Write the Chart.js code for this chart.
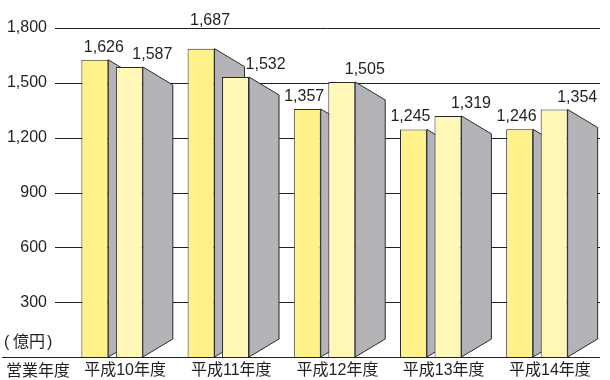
<!DOCTYPE html>
<html lang="ja">
<head>
  <meta charset="UTF-8" />
  <title>営業収益</title>
  <script src="https://cdn.jsdelivr.net/npm/chart.js"></script>
  <style>
    * { margin: 0; padding: 0; box-sizing: border-box; }
    body { background: #fff; width: 610px; height: 380px; overflow: hidden; }
    #wrap { position: relative; width: 610px; height: 380px; }
  </style>
</head>
<body>
  <div id="wrap"><canvas id="chart" width="610" height="380"></canvas></div>

  <script>
    const categories = ['平成10年度', '平成11年度', '平成12年度', '平成13年度', '平成14年度'];
    const seriesA = [1626, 1687, 1357, 1245, 1246];
    const seriesB = [1587, 1532, 1505, 1319, 1354];
    const yTicks = [300, 600, 900, 1200, 1500, 1800];

    const FONT = "'Liberation Sans', Arial, 'Noto Sans CJK JP', sans-serif";
    const INK = '#231f20';

    // rules, unit label, then grey perspective side faces (all under the bars)
    const backPlugin = {
      id: 'back',
      beforeDatasetsDraw(chart) {
        const ctx = chart.ctx;
        const y = chart.scales.y;
        const base = y.getPixelForValue(0);
        ctx.save();
        ctx.strokeStyle = INK;
        ctx.lineWidth = 1;
        yTicks.forEach(v => {
          const py = Math.round(y.getPixelForValue(v)) + 0.5;
          ctx.beginPath();
          ctx.moveTo(55, py);
          ctx.lineTo(600, py);
          ctx.stroke();
        });
        const b = Math.round(base) + 0.5;
        ctx.beginPath();
        ctx.moveTo(2, b);
        ctx.lineTo(600, b);
        ctx.stroke();

        ctx.fillStyle = INK;
        ctx.font = '16px ' + FONT;
        ctx.textAlign = 'left';
        ctx.textBaseline = 'middle';
        // unit label, loosely spaced as in the print
        ctx.fillText('(', 4, 343);
        ctx.fillText('億円', 13, 343);
        ctx.fillText(')', 47, 343);
        ctx.fillText('営業年度', 6, 372);

        // light bars are drawn over the dark bars' faces afterwards
        [0, 1].forEach(di => {
          chart.getDatasetMeta(di).data.forEach(bar => {
            const xr = bar.x + bar.width / 2;
            const top = bar.y;
            ctx.beginPath();
            ctx.moveTo(xr, top);
            ctx.lineTo(xr + 30, top + 18);
            ctx.lineTo(xr + 30, base - 18);
            ctx.lineTo(xr, base);
            ctx.closePath();
            ctx.fillStyle = '#b4b4b8';
            ctx.fill();
            ctx.strokeStyle = '#2a2a2a';
            ctx.stroke();
          });
        });
        ctx.restore();
      }
    };

    // value labels above the bars
    const valuePlugin = {
      id: 'values',
      afterDatasetsDraw(chart) {
        const ctx = chart.ctx;
        const y = chart.scales.y;
        const rules = yTicks.map(v => y.getPixelForValue(v));
        ctx.save();
        ctx.fillStyle = INK;
        ctx.font = '16px ' + FONT;
        ctx.textAlign = 'center';
        ctx.textBaseline = 'alphabetic';
        chart.data.datasets.forEach((ds, di) => {
          chart.getDatasetMeta(di).data.forEach((bar, i) => {
            let dx;
            if (di === 0) dx = seriesA[i] > seriesB[i] ? 9 : -3;
            else dx = seriesA[i] - seriesB[i] > 100 ? 30 : 23;
            let baseLine = bar.y - 8;
            const hit = rules.find(r => r >= baseLine - 16 && r <= baseLine + 2);
            if (hit !== undefined) baseLine = hit - 3;
            ctx.fillText(ds.data[i].toLocaleString('en-US'), bar.x + dx, baseLine);
          });
        });
        ctx.restore();
      }
    };

    new Chart(document.getElementById('chart'), {
      type: 'bar',
      data: {
        labels: categories,
        datasets: [
          {
            data: seriesA,
            backgroundColor: '#fff28a',
            borderColor: '#2a2a2a',
            borderWidth: 1,
            categoryPercentage: 0.65,
            barPercentage: 0.78
          },
          {
            data: seriesB,
            backgroundColor: '#fff8b8',
            borderColor: '#2a2a2a',
            borderWidth: 1,
            categoryPercentage: 0.65,
            barPercentage: 0.78
          }
        ]
      },
      options: {
        responsive: false,
        animation: false,
        layout: { padding: { left: 0, right: 20, top: 28, bottom: 0 } },
        plugins: {
          legend: { display: false },
          tooltip: { enabled: false }
        },
        scales: {
          x: {
            grid: { display: false, drawTicks: false },
            border: { display: false },
            ticks: {
              color: INK,
              font: { family: FONT, size: 16 },
              padding: 4,
              labelOffset: 13,
              maxRotation: 0
            },
            afterFit: s => { s.height = 23; }
          },
          y: {
            min: 0,
            max: 1800,
            grid: { display: false, drawTicks: false },
            border: { display: false },
            ticks: {
              stepSize: 300,
              color: INK,
              font: { family: FONT, size: 16 },
              padding: 12,
              callback: v => (v === 0 ? '' : v.toLocaleString('en-US'))
            },
            afterFit: s => { s.width = 59; }
          }
        }
      },
      plugins: [backPlugin, valuePlugin]
    });
  </script>
</body>
</html>
